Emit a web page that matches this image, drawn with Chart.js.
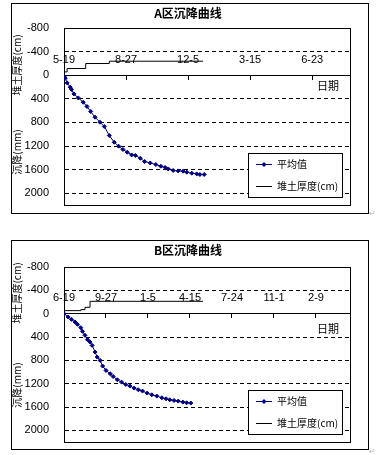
<!DOCTYPE html>
<html>
<head>
<meta charset="utf-8">
<script src="https://cdn.jsdelivr.net/npm/chart.js@4/dist/chart.umd.min.js"></script>
<style>
  body { margin: 0; background: #fff; }
  .box { position: absolute; left: 11px; width: 358px; border: 1px solid #000; box-sizing: border-box; background: #fff; }
  .mark { position: absolute; left: 369px; font: 8px "DejaVu Sans"; color: #bbb; }
</style>
</head>
<body>
<div class="box" style="top:3px;height:211px"><canvas class="js-chart-a"></canvas></div>
<span class="mark" style="top:209px">↵</span>
<div class="box" style="top:240px;height:210px"><canvas class="js-chart-b"></canvas></div>
<span class="mark" style="top:447px">↵</span>
<script>
// A区 (days from 5-19)
const aDays = [0, 2, 5, 10, 12, 16, 23, 31, 37, 43, 50, 58, 65, 73, 81, 88, 95, 102, 109, 115, 123, 130, 139, 148, 156, 163, 168, 176, 184, 192, 198, 206, 214, 219, 226];
const aAvg = [20, 51, 130, 203, 242, 317, 385, 458, 531, 615, 712, 797, 870, 1022, 1136, 1203, 1259, 1305, 1351, 1361, 1407, 1463, 1487, 1514, 1542, 1564, 1588, 1615, 1622, 1627, 1644, 1661, 1673, 1683, 1683];
const aFillDays = [0, 5, 35, 73, 224];
const aFill = [-56, -113, -198, -237, -237];
const aDateLabels = ["5-19", "8-27", "12-5", "3-15", "6-23"];

// B区 (days from 6-19)
const bDays = [0, 10, 18, 26, 32, 40, 44, 50, 56, 62, 67, 74, 79, 86, 92, 100, 110, 117, 127, 137, 147, 157, 167, 177, 187, 198, 209, 221, 233, 243, 252, 262, 272, 283, 292, 302];
const bAvg = [0, 57, 98, 143, 183, 240, 303, 372, 446, 486, 544, 658, 744, 801, 898, 973, 1030, 1077, 1133, 1173, 1214, 1241, 1276, 1305, 1327, 1362, 1391, 1413, 1442, 1459, 1477, 1488, 1499, 1516, 1528, 1533];
const bFillDays = [0, 40, 50, 62, 331];
const bFill = [-52, -69, -109, -212, -212];
const bDateLabels = ["6-19", "9-27", "1-5", "4-15", "7-24", "11-1", "2-9"];

const yTicks = [-800, -400, 0, 400, 800, 1200, 1600, 2000];

const NUM_FONT = '"Liberation Sans", Arial, sans-serif';
const CJK_FONT = '"Noto Sans CJK SC", "Liberation Sans", sans-serif';

const toPoints = (xs, ys) => xs.map((x, i) => ({ x: x, y: ys[i] }));

// titles, axis captions, legend and plot frame
const decor = {
  id: "decor",
  beforeDatasetsDraw(chart) {
    const ctx = chart.ctx;
    const a = chart.chartArea;
    ctx.save();
    ctx.strokeStyle = "#000";
    ctx.lineWidth = 1;
    ctx.strokeRect(Math.round(a.left) + 0.5, Math.round(a.top) + 0.5, Math.round(a.right - a.left), Math.round(a.bottom - a.top));
    ctx.restore();
  },
  afterDraw(chart, args, opts) {
    const ctx = chart.ctx;
    const sets = chart.data.datasets;
    ctx.save();
    ctx.fillStyle = "#000";
    ctx.textBaseline = "middle";

    ctx.textAlign = "center";
    ctx.font = "bold 12px " + CJK_FONT;
    ctx.fillText(opts.title, 176, 9);

    ctx.font = "10px " + CJK_FONT;
    [[opts.upperCaption, opts.upperY], [opts.lowerCaption, opts.lowerY]].forEach(([t, y]) => {
      ctx.save();
      ctx.translate(5, y);
      ctx.rotate(-Math.PI / 2);
      ctx.fillText(t, 0, 0);
      ctx.restore();
    });

    const y0 = chart.scales.y.getPixelForValue(0);
    ctx.font = "11px " + CJK_FONT;
    ctx.fillText("日期", 316, y0 + opts.dateOffset);

    // legend
    const lx = 236, ly = 149;
    ctx.fillStyle = "#fff";
    ctx.fillRect(lx, ly, 94, 44);
    ctx.strokeStyle = "#000";
    ctx.lineWidth = 1;
    ctx.strokeRect(lx + 0.5, ly + 0.5, 94, 44);

    ctx.font = "10px " + CJK_FONT;
    ctx.textAlign = "left";
    sets.forEach((ds, i) => {
      const yy = ly + 11.5 + i * 22;
      ctx.strokeStyle = ds.borderColor;
      ctx.beginPath();
      ctx.moveTo(lx + 8, yy);
      ctx.lineTo(lx + 24, yy);
      ctx.stroke();
      if (ds.pointRadius > 0) {
        ctx.fillStyle = ds.borderColor;
        ctx.beginPath();
        ctx.moveTo(lx + 16, yy - 2.5);
        ctx.lineTo(lx + 18.5, yy);
        ctx.lineTo(lx + 16, yy + 2.5);
        ctx.lineTo(lx + 13.5, yy);
        ctx.closePath();
        ctx.fill();
      }
      ctx.fillStyle = "#000";
      ctx.fillText(ds.label, lx + 29, yy);
    });
    ctx.restore();
  },
};

const settleChart = function (el, cfg) {
  const maxDay = (cfg.labels.length - 1) * 100 + cfg.tail;

  new Chart(el, {
    type: "line",
    data: {
      datasets: [
        {
          label: "平均值",
          data: toPoints(cfg.days, cfg.avg),
          borderColor: "#000080",
          backgroundColor: "#000080",
          borderWidth: 1,
          pointStyle: "rectRot",
          pointRadius: 2,
          pointBorderWidth: 1,
          tension: 0,
        },
        {
          label: "堆土厚度(cm)",
          data: toPoints(cfg.fillDays, cfg.fill),
          borderColor: "#000",
          borderWidth: 1,
          pointRadius: 0,
          stepped: true,
        },
      ],
    },
    options: {
      responsive: true,
      maintainAspectRatio: false,
      animation: false,
      layout: { padding: { left: 0, top: cfg.top, right: 18, bottom: cfg.bottom } },
      scales: {
        x: {
          type: "linear",
          position: { y: 0 },
          min: 0,
          max: maxDay,
          afterBuildTicks: (s) => {
            s.ticks = s.ticks.filter((t) => t.value % 100 === 0 && t.value / 100 < cfg.labels.length);
          },
          ticks: {
            stepSize: 100,
            padding: -26,
            color: "#000",
            font: { family: NUM_FONT, size: 11 },
            maxRotation: 0,
            autoSkip: false,
            callback: (value) => cfg.labels[value / 100],
          },
          grid: { drawOnChartArea: false, drawTicks: true, tickLength: 4, tickColor: "#000" },
          border: { color: "#000", width: 1 },
        },
        y: {
          type: "linear",
          reverse: true,
          min: -800,
          max: 2200,
          afterBuildTicks: (s) => {
            s.ticks = yTicks.map((v) => ({ value: v }));
          },
          afterFit: (s) => {
            s.width = 52;
            s.paddingTop = 0;
            s.paddingBottom = 0;
          },
          ticks: {
            padding: 15,
            color: "#000",
            font: { family: NUM_FONT, size: 11 },
            callback: (value) => String(value),
          },
          grid: {
            drawTicks: false,
            lineWidth: 1,
            color: (c) => (c.tick && (c.tick.value === -800 || c.tick.value === 0) ? "rgba(0,0,0,0)" : "#000"),
          },
          border: { color: "#000", width: 1, dash: [4, 3] },
        },
      },
      plugins: {
        legend: { display: false },
        tooltip: { enabled: false },
        decor: cfg.decor,
      },
    },
    plugins: [decor],
  });
};

const init = function () {
  settleChart(document.querySelector(".js-chart-a"), {
    days: aDays, avg: aAvg, fillDays: aFillDays, fill: aFill, labels: aDateLabels,
    tail: 61, top: 24, bottom: 8,
    decor: { title: "A区沉降曲线", upperCaption: "堆土厚度(cm)", upperY: 61, lowerCaption: "沉降(mm)", lowerY: 148, dateOffset: 11 },
  });
  settleChart(document.querySelector(".js-chart-b"), {
    days: bDays, avg: bAvg, fillDays: bFillDays, fill: bFill, labels: bDateLabels,
    tail: 81, top: 26, bottom: 7,
    decor: { title: "B区沉降曲线", upperCaption: "堆土厚度(cm)", upperY: 52, lowerCaption: "沉降(mm)", lowerY: 144, dateOffset: 15 },
  });
};

document.addEventListener("DOMContentLoaded", init);
</script>
</body>
</html>
